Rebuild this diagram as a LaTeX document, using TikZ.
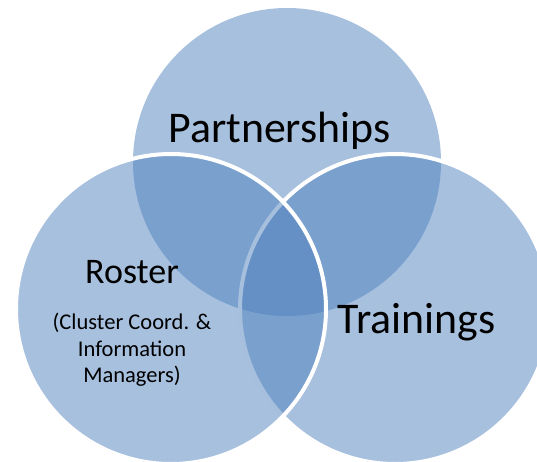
\documentclass[tikz,border=0pt]{standalone}
\usepackage{fontspec}
\setmainfont{Carlito}
\usepackage{xcolor}
\usepackage{tikz}

\definecolor{vennblue}{RGB}{79,129,189}

\begin{document}
\begin{tikzpicture}[x=1pt, y=-1pt,
  every node/.style = {inner sep=0pt, text=black},
  circ/.style = {fill=vennblue, fill opacity=0.5},
  rim/.style = {circ, draw=white, draw opacity=1, line width=4pt},
  bigtext/.style = {font=\fontsize{43.8}{52}\selectfont},
  midtext/.style = {font=\fontsize{36}{43}\selectfont},
  smalltext/.style = {font=\fontsize{22.5}{26.5}\selectfont, align=center}]

\useasboundingbox (0,0) rectangle (537,462);
\clip (0,0) rectangle (537,462);

\fill[circ] (287,162) circle [radius=154];
\filldraw[rim] (395,309) circle [radius=155];
\filldraw[rim] (171,309) circle [radius=155];

\node (partnerships) [bigtext, anchor=base] at (279.5,143) {Partnerships};
\node (trainings) [bigtext, anchor=base] at (416.5,333) {Trainings};
\node (roster) [midtext, anchor=base] at (132,283) {Roster};
\node (rosterNote) [smalltext] at (132,350) {(Cluster Coord. \&\\Information\\Managers)};
\end{tikzpicture}
\end{document}
